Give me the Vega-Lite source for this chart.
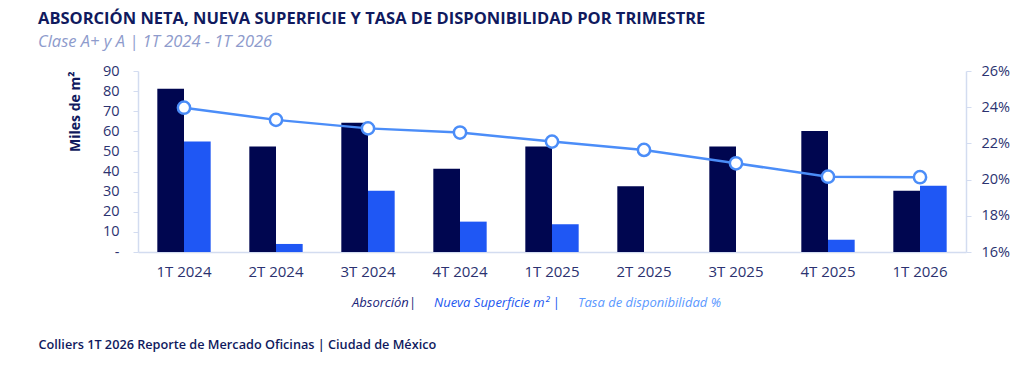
{
  "$schema": "https://vega.github.io/schema/vega-lite/v6.json",
  "width": 828,
  "height": 181,
  "autosize": "none",
  "padding": {"left": 138, "top": 71, "right": 58, "bottom": 114},
  "background": "white",
  "config": {"view": {"stroke": null}, "font": "Open Sans"},
  "title": {
    "text": "ABSORCIÓN NETA, NUEVA SUPERFICIE Y TASA DE DISPONIBILIDAD POR TRIMESTRE",
    "subtitle": "Clase A+ y A | 1T 2024 - 1T 2026",
    "anchor": "start",
    "frame": "group",
    "dx": -100,
    "font": "Open Sans",
    "fontSize": 16.5,
    "fontWeight": "bold",
    "color": "#101a5e",
    "subtitleFont": "Open Sans",
    "subtitleFontStyle": "italic",
    "subtitleFontSize": 16.5,
    "subtitleColor": "#8e9bcc",
    "subtitlePadding": 6,
    "offset": 13
  },
  "datasets": {
    "bars": [
      {"t": "1T 2024", "serie": "Absorción|", "v": 81.2},
      {"t": "1T 2024", "serie": "Nueva Superficie m² |", "v": 54.9},
      {"t": "2T 2024", "serie": "Absorción|", "v": 52.4},
      {"t": "2T 2024", "serie": "Nueva Superficie m² |", "v": 4.0},
      {"t": "3T 2024", "serie": "Absorción|", "v": 64.3},
      {"t": "3T 2024", "serie": "Nueva Superficie m² |", "v": 30.5},
      {"t": "4T 2024", "serie": "Absorción|", "v": 41.4},
      {"t": "4T 2024", "serie": "Nueva Superficie m² |", "v": 15.1},
      {"t": "1T 2025", "serie": "Absorción|", "v": 52.4},
      {"t": "1T 2025", "serie": "Nueva Superficie m² |", "v": 13.8},
      {"t": "2T 2025", "serie": "Absorción|", "v": 32.7},
      {"t": "2T 2025", "serie": "Nueva Superficie m² |", "v": 0},
      {"t": "3T 2025", "serie": "Absorción|", "v": 52.5},
      {"t": "3T 2025", "serie": "Nueva Superficie m² |", "v": 0},
      {"t": "4T 2025", "serie": "Absorción|", "v": 60.2},
      {"t": "4T 2025", "serie": "Nueva Superficie m² |", "v": 6.1},
      {"t": "1T 2026", "serie": "Absorción|", "v": 30.5},
      {"t": "1T 2026", "serie": "Nueva Superficie m² |", "v": 33.0}
    ],
    "tasa": [
      {"t": "1T 2024", "tasa": 0.2397},
      {"t": "2T 2024", "tasa": 0.233},
      {"t": "3T 2024", "tasa": 0.2283},
      {"t": "4T 2024", "tasa": 0.226},
      {"t": "1T 2025", "tasa": 0.221},
      {"t": "2T 2025", "tasa": 0.2164},
      {"t": "3T 2025", "tasa": 0.209},
      {"t": "4T 2025", "tasa": 0.2016},
      {"t": "1T 2026", "tasa": 0.2013}
    ]
  },
  "layer": [
    {
      "data": {"name": "bars"},
      "mark": {"type": "bar"},
      "encoding": {
        "x": {
          "field": "t",
          "type": "nominal",
          "sort": null,
          "scale": {"paddingInner": 0.42, "paddingOuter": 0.21},
          "axis": {
            "title": "Colliers 1T 2026 Reporte de Mercado Oficinas | Ciudad de México",
            "titleAnchor": "start",
            "titleX": -100,
            "titleY": 96,
            "titleAlign": "left",
            "titleBaseline": "alphabetic",
            "titleFont": "Open Sans",
            "titleFontSize": 12.7,
            "titleFontWeight": 600,
            "titleColor": "#101a5e",
            "labelAngle": 0,
            "labelPadding": 12,
            "labelFontSize": 15,
            "labelColor": "#2b3270",
            "ticks": false,
            "domainColor": "#d3dcf0",
            "domainWidth": 1.5
          }
        },
        "xOffset": {"field": "serie", "sort": ["Absorción|", "Nueva Superficie m² |"]},
        "y": {
          "field": "v",
          "type": "quantitative",
          "scale": {"domain": [0, 90]},
          "axis": {
            "title": "Miles de m²",
            "titleFont": "Open Sans",
            "titleFontSize": 14,
            "titleFontWeight": "bold",
            "titleColor": "#101a5e",
            "titleAnchor": "end",
            "titlePadding": 20,
            "grid": false,
            "values": [0, 10, 20, 30, 40, 50, 60, 70, 80, 90],
            "labelExpr": "datum.value == 0 ? '-' : datum.label",
            "labelOverlap": false,
            "labelFontSize": 14.5,
            "labelColor": "#2b3270",
            "labelPadding": 14,
            "tickSize": 5,
            "tickColor": "#d3dcf0",
            "domainColor": "#d3dcf0",
            "domainWidth": 1.5
          }
        },
        "color": {
          "field": "serie",
          "type": "nominal",
          "scale": {
            "domain": ["Absorción|", "Nueva Superficie m² |", "Tasa de disponibilidad %"],
            "range": ["#000650", "#1f57f4", "#4b8df8"]
          },
          "legend": {
            "orient": "none",
            "legendX": 201,
            "legendY": 225,
            "direction": "horizontal",
            "title": null,
            "symbolSize": 0,
            "symbolOpacity": 0,
            "symbolStrokeWidth": 0,
            "labelOffset": 0,
            "columnPadding": 5,
            "labelFont": "Open Sans",
            "labelFontStyle": "italic",
            "labelFontSize": 13,
            "labelColor": {"expr": "datum.label == 'Absorción|' ? '#1b2478' : datum.label == 'Nueva Superficie m² |' ? '#2258f0' : '#5a98ff'"}
          }
        }
      }
    },
    {
      "data": {"name": "tasa"},
      "encoding": {
        "x": {"field": "t", "type": "nominal", "sort": null},
        "y": {
          "field": "tasa",
          "type": "quantitative",
          "scale": {"domain": [0.16, 0.26], "nice": false},
          "axis": {
            "orient": "right",
            "title": null,
            "format": ".0%",
            "grid": false,
            "values": [0.16, 0.18, 0.2, 0.22, 0.24, 0.26],
            "labelOverlap": false,
            "labelFlush": false,
            "labelFontSize": 14.5,
            "labelColor": "#2b3270",
            "labelPadding": 10,
            "tickSize": 5,
            "tickColor": "#d3dcf0",
            "domainColor": "#d3dcf0",
            "domainWidth": 1.5
          }
        }
      },
      "layer": [
        {
          "mark": {"type": "line", "strokeWidth": 2.5},
          "encoding": {
            "color": {"datum": "Tasa de disponibilidad %", "type": "nominal"}
          }
        },
        {
          "mark": {"type": "point", "filled": true, "fill": "white", "stroke": "#4b8df8", "strokeWidth": 2.5, "size": 150, "opacity": 1},
          "encoding": {}
        }
      ]
    }
  ],
  "resolve": {"scale": {"y": "independent"}}
}
